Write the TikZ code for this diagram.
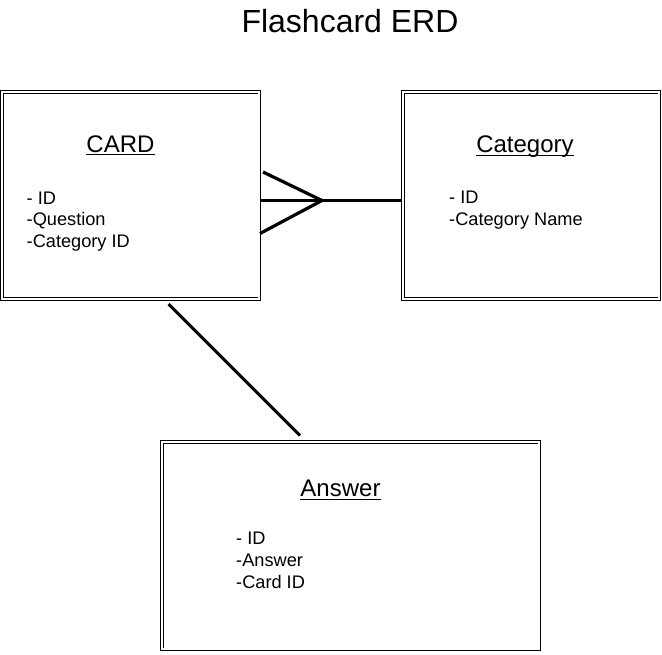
\documentclass[tikz,border=0pt]{standalone}
\usepackage{fontspec}
\setmainfont{Liberation Sans}
\newcommand{\ulword}[1]{\setbox0\hbox{#1}\rlap{\rule[-3pt]{\wd0}{0.9pt}}\box0}
\begin{document}
\begin{tikzpicture}[x=1pt,y=-1pt,
  entity/.style={draw, double, double distance=1.6pt, line width=0.9pt, inner sep=0pt, minimum height=207pt},
  etitle/.style={anchor=base, inner sep=0pt, font=\fontsize{24}{28}\selectfont},
  attrs/.style={anchor=north west, inner sep=0pt, align=left, font=\fontsize{18.2}{21.7}\selectfont},
  rel/.style={line width=3.2pt}]
\useasboundingbox (0,0) rectangle (662,654);
\node[anchor=base, inner sep=0pt, font=\fontsize{32}{36}\selectfont] (title) at (350,32.3) {Flashcard ERD};
\node[entity, minimum width=257.4pt] (card) at (130.5,195.3) {};
\node[entity, minimum width=256.4pt] (category) at (531,195.3) {};
\node[entity, minimum width=377.4pt, minimum height=207.4pt] (answer) at (350.5,545.5) {};
\node[etitle] (cardt) at (120.5,152) {\ulword{CARD}};
\node[etitle] (catt) at (525,152.5) {\ulword{Category}};
\node[etitle] (anst) at (340.5,496.5) {\ulword{Answer}};
\node[attrs] (carda) at (26.5,191.5) {- ID\\-Question\\-Category ID};
\node[attrs] (cata) at (449,191) {- ID\\-Category Name};
\node[attrs] (ansa) at (236,532) {- ID\\-Answer\\-Card ID};
\coordinate (apex) at (322,200.5);
\coordinate (ftop) at (263,172);
\coordinate (fbot) at (260,233.5);
\draw[rel] (card.east |- apex) -- (category.west |- apex);
\draw[rel] (ftop) -- (apex) -- (fbot);
\coordinate (l1) at (168.5,304);
\coordinate (l2) at (300,435.5);
\draw[rel, line width=3pt] (l1) -- (l2);
\end{tikzpicture}
\end{document}
